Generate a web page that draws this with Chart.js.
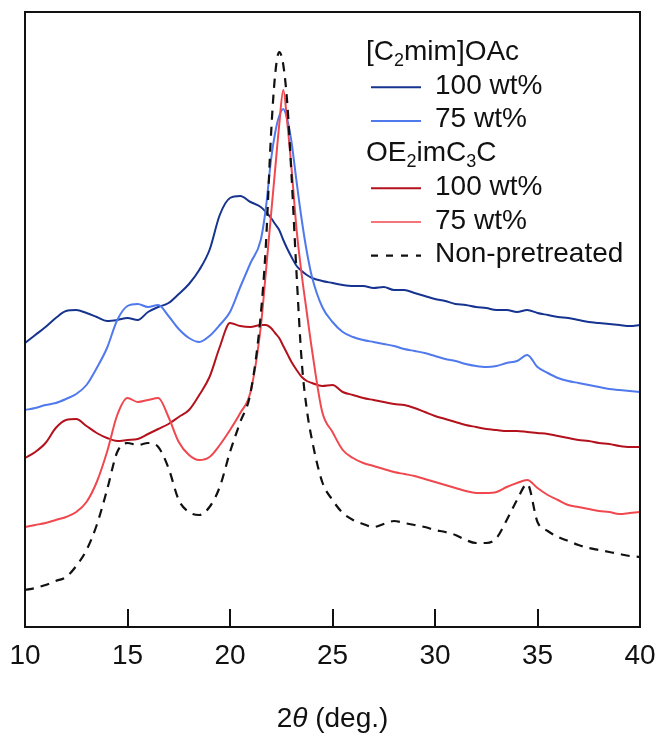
<!DOCTYPE html>
<html><head><meta charset="utf-8">
<script src="https://cdn.jsdelivr.net/npm/chart.js@4/dist/chart.umd.min.js"></script>
<style>html,body{margin:0;padding:0;background:#fff}#wrap{width:660px;height:738px}</style>
</head><body><div id="wrap"><canvas id="c" width="660" height="738"></canvas></div>
<script>
// 2θ (deg.)
const twoTheta = [10,10.5,11,11.5,12,12.5,13,13.5,14,14.5,15,15.5,16,16.5,17,17.5,18,18.5,19,19.5,20,20.5,21,21.5,
  21.75,22,22.2,22.4,22.6,22.8,23,23.25,23.5,23.75,24,24.5,
  25,25.5,26,26.5,27,27.5,28,28.5,29,29.5,30,30.5,31,31.5,32,32.5,33,33.5,34,34.5,35,35.5,36,36.5,37,37.5,38,38.5,39,39.5,40];
// intensity (a.u., stacked traces)
const c2mim100 = [284,292,300,309,316,317,314,310,306,307,309,307,315,320,324,333,343,357,377,412,429,431,425,420,
  415,409,403,397,387,378,370,361,356,352,349,346,
  344,342,341,341,339,340,337,337,334,331,328,326,323,322,320,319,317,317,315,317,314,312,310,309,307,305,304,303,302,301,302];
const c2mim75 = [217,219,222,224,228,233,242,259,279,307,321,323,320,322,311,298,289,285,291,302,315,340,364,387,
  419,467,494,511,518,507,485,445,407,375,350,320,
  305,295,290,287,285,283,281,278,276,274,271,268,266,263,261,260,261,264,266,272,260,254,249,246,244,242,240,238,237,236,235];
const oe100 = [169,175,184,199,207,208,201,194,189,186,187,188,193,198,203,210,217,232,250,280,304,301,300,302,
  302,299,294,289,281,273,265,257,250,246,244,241,
  242,235,232,229,227,225,223,222,219,215,211,208,205,202,200,198,197,196,196,195,194,193,191,189,187,186,184,183,181,180,180];
const oe75 = [100,102,104,107,110,115,125,145,175,212,229,225,227,229,210,185,172,167,170,182,197,214,235,300,
  355,412,457,502,537,503,459,397,352,314,277,215,
  195,177,169,164,161,158,155,153,151,148,145,142,139,136,134,134,135,140,144,147,139,132,127,122,120,118,116,115,113,114,115];
const nonPretreated = [37,39,42,46,50,61,77,102,137,175,184,182,184,180,159,127,115,112,120,140,175,205,234,312,
  382,492,552,575,562,522,452,352,265,217,187,145,
  127,114,107,103,100,103,106,104,102,100,97,95,92,87,84,84,89,107,127,143,105,96,90,86,82,79,77,75,73,71,70];
const xTicks = [10,15,20,25,30,35,40];

const colDarkBlue = '#16348f', colLightBlue = '#5079ec', colDarkRed = '#b3121c', colLightRed = '#f0484f', colBlack = '#111111';
const FONT = '"Liberation Sans", Arial, sans-serif';

// legend content
const legendRows = [
  {type:'head', parts:[['[C','n'],['2','sub'],['mim]OAc','n']]},
  {type:'item', text:'100 wt%', color:colDarkBlue, dash:[], width:2},
  {type:'item', text:'75 wt%', color:colLightBlue, dash:[], width:2},
  {type:'head', parts:[['OE','n'],['2','sub'],['imC','n'],['3','sub'],['C','n']]},
  {type:'item', text:'100 wt%', color:colDarkRed, dash:[], width:2},
  {type:'item', text:'75 wt%', color:colLightRed, dash:[], width:1.5},
  {type:'item', text:'Non-pretreated', color:colBlack, dash:[7,8], width:2.2}
];
const axisTitleParts = [['2','n'],['\u03B8','i'],[' (deg.)','n']];

function pts(arr){ return twoTheta.map((x,i)=>({x:x, y:arr[i]})); }

function drawRich(ctx, parts, x, y, size){
  for (const [t,k] of parts){
    const s = k==='sub' ? Math.round(size*0.66) : size;
    ctx.font = (k==='i'?'italic ':'') + s + 'px ' + FONT;
    ctx.fillText(t, x, y + (k==='sub' ? size*0.2 : 0));
    x += ctx.measureText(t).width;
  }
  return x;
}
function richWidth(ctx, parts, size){
  let w=0;
  for (const [t,k] of parts){
    const s = k==='sub' ? Math.round(size*0.66) : size;
    ctx.font = (k==='i'?'italic ':'') + s + 'px ' + FONT;
    w += ctx.measureText(t).width;
  }
  return w;
}

const framePlugin = {
  id:'frame',
  afterDraw(chart){
    const {ctx, chartArea:a, scales:{x}} = chart;
    ctx.save();
    ctx.strokeStyle = '#111'; ctx.lineWidth = 2; ctx.setLineDash([]);
    ctx.strokeRect(a.left, a.top, a.right-a.left, a.bottom-a.top);
    ctx.beginPath();
    for (const t of x.ticks){
      const px = Math.round(x.getPixelForValue(t.value));
      ctx.moveTo(px, a.bottom); ctx.lineTo(px, a.bottom-18);
    }
    ctx.stroke();
    // legend
    ctx.fillStyle = '#111'; ctx.textBaseline = 'alphabetic'; ctx.textAlign = 'left';
    const size = 28, rowH = 33.7, baseY = 60, headX = 366, textX = 435, l0 = 371, l1 = 421;
    legendRows.forEach((r,i)=>{
      const by = baseY + i*rowH;
      if (r.type==='head'){ drawRich(ctx, r.parts, headX, by, size); }
      else {
        ctx.save();
        ctx.strokeStyle = r.color; ctx.lineWidth = r.width; ctx.setLineDash(r.dash);
        ctx.beginPath(); ctx.moveTo(l0, by-6.5); ctx.lineTo(l1, by-6.5); ctx.stroke();
        ctx.restore();
        ctx.font = size+'px '+FONT; ctx.fillText(r.text, textX, by);
      }
    });
    // x-axis title
    const w = richWidth(ctx, axisTitleParts, size);
    const cx = (a.left + a.right)/2;
    drawRich(ctx, axisTitleParts, cx - w/2, 727, size);
    ctx.restore();
  }
};

const ds = (label, data, color, extra) => Object.assign({
  label, data: pts(data), borderColor: color, backgroundColor: color, borderWidth: 2,
  pointRadius: 0, fill: false, cubicInterpolationMode: 'monotone'
}, extra||{});

new Chart(document.getElementById('c'), {
  type: 'line',
  data: { datasets: [
    ds('Non-pretreated', nonPretreated, colBlack, {borderDash:[9,7], borderWidth:2.2}),
    ds('OE2imC3C 75 wt%', oe75, colLightRed),
    ds('OE2imC3C 100 wt%', oe100, colDarkRed),
    ds('[C2mim]OAc 75 wt%', c2mim75, colLightBlue),
    ds('[C2mim]OAc 100 wt%', c2mim100, colDarkBlue)
  ]},
  options: {
    responsive: false, animation: false, devicePixelRatio: 1,
    layout: { padding: { left: 25, right: 20, top: 12, bottom: 67 } },
    plugins: { legend: { display: false }, tooltip: { enabled: false } },
    scales: {
      x: { type: 'linear', min: 10, max: 40,
        afterBuildTicks: (s) => { s.ticks = xTicks.map(v => ({value: v})); },
        afterFit: (s) => { s.height = 44; s.paddingLeft = 0; s.paddingRight = 0; },
        grid: { display: false, drawTicks: false },
        border: { display: false },
        ticks: { color: '#111', padding: 12, font: { family: FONT, size: 28 } } },
      y: { display: false, min: 0, max: 615 }
    }
  },
  plugins: [framePlugin]
});
</script></body></html>
